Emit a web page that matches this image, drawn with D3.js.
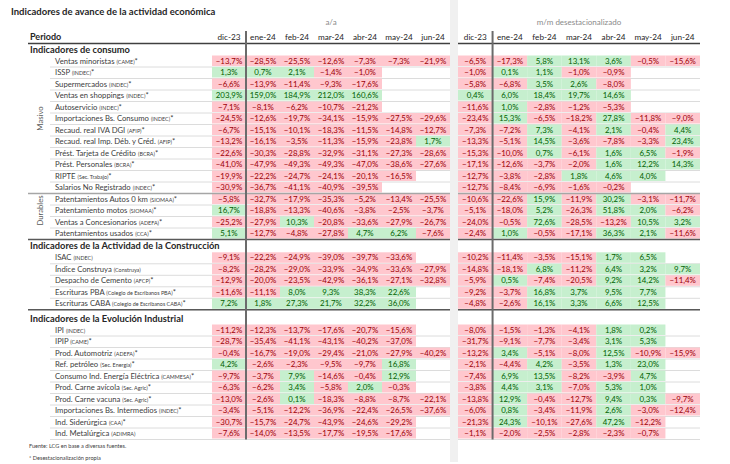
<!DOCTYPE html>
<html><head><meta charset="utf-8">
<script src="https://cdn.jsdelivr.net/npm/d3@7"></script>
<style>body{margin:0;background:#fff}svg{display:block}text{font-family:Lato,"Open Sans",sans-serif}</style>
</head><body><div id="chart"></div>
<script>
// ---------- DATA ----------
const periods = ["dic-23","ene-24","feb-24","mar-24","abr-24","may-24","jun-24"];
const title = "Indicadores de avance de la actividad económica";
const headerAA = "a/a";
const headerMM = "m/m desestacionalizado";

const sectionTitles = ["Indicadores de consumo","Indicadores de la Actividad de la Construcción","Indicadores de la Evolución Industrial"];

const consumoLabels = ["Ventas minoristas","ISSP","Supermercados","Ventas en shoppings","Autoservicio","Importaciones Bs. Consumo","Recaud. real IVA DGI","Recaud. real Imp. Déb. y Créd.","Prést. Tarjeta de Crédito","Prést. Personales","RIPTE","Salarios No Registrado","Patentamientos Autos 0 km","Patentamiento motos","Ventas a Concesionarios","Patentamientos usados"];
const consumoSources = ["(CAME)","(INDEC)","(INDEC)","(INDEC)","(INDEC)","(INDEC)","(AFIP)","(AFIP)","(BCRA)","(BCRA)","(Sec. Trabajo)","(INDEC)","(SIOMAA)","(SIOMAA)","(ADEFA)","(CCA)"];
const consumoStar = [1,1,1,1,1,1,1,1,1,1,1,1,1,1,1,1];
const consumoAA = [
 [-13.7,-28.5,-25.5,-12.6,-7.3,-7.3,-21.9],
 [1.3,0.7,2.1,-1.4,-1.0,null,null],
 [-6.6,-13.9,-11.4,-9.3,-17.6,null,null],
 [203.9,159.0,184.9,212.0,160.6,null,null],
 [-7.1,-8.1,-6.2,-10.7,-21.2,null,null],
 [-24.5,-12.6,-19.7,-34.1,-15.9,-27.5,-29.6],
 [-6.7,-15.1,-10.1,-18.3,-11.5,-14.8,-12.7],
 [-13.2,-16.1,-3.5,-11.3,-15.9,-23.8,1.7],
 [-22.6,-30.3,-28.8,-32.9,-31.1,-27.3,-28.6],
 [-41.0,-47.9,-49.3,-49.3,-47.0,-38.6,-27.6],
 [-19.9,-22.2,-24.7,-24.1,-20.1,-16.5,null],
 [-30.9,-36.7,-41.1,-40.9,-39.5,null,null],
 [-5.8,-32.7,-17.9,-35.3,-5.2,-13.4,-25.5],
 [16.7,-18.8,-13.3,-40.6,-3.8,-2.5,-3.7],
 [-25.2,-27.9,10.3,-20.8,-33.6,-27.9,-26.7],
 [5.1,-12.7,-4.8,-27.8,4.7,6.2,-7.6]
];
const consumoMM = [
 [-6.5,-17.3,5.8,13.1,3.6,-0.5,-15.6],
 [-1.0,0.1,1.1,-1.0,-0.9,null,null],
 [-5.8,-6.8,3.5,2.6,-8.0,null,null],
 [0.4,6.0,18.4,19.7,14.6,null,null],
 [-11.6,1.0,-2.8,-1.2,-5.3,null,null],
 [-23.4,15.3,-6.5,-18.2,27.8,-11.8,-9.0],
 [-7.3,-7.2,7.3,-4.1,2.1,-0.4,4.4],
 [-13.3,-5.1,14.5,-3.6,-7.8,-3.3,23.4],
 [-15.3,-10.0,0.7,-6.1,1.6,6.5,-1.9],
 [-17.1,-12.6,-3.7,-2.0,1.6,12.2,14.3],
 [-12.7,-3.8,-2.8,1.8,4.6,4.0,null],
 [-12.7,-8.4,-6.9,-1.6,-0.2,null,null],
 [-10.6,-22.6,15.9,-11.9,30.2,-3.1,-11.7],
 [-5.1,-18.0,5.2,-26.3,51.8,2.0,-6.2],
 [-24.0,-0.5,72.6,-28.5,-13.2,10.5,3.2],
 [-2.4,1.0,-0.5,-17.1,36.3,2.1,-11.6]
];
const consumoGroups = [{name:"Masivo",from:0,to:11},{name:"Durables",from:12,to:15}];

const construLabels = ["ISAC","Índice Construya","Despacho de Cemento","Escrituras PBA","Escrituras CABA"];
const construSources = ["(INDEC)","(Construya)","(AFCP)","(Colegio de Escribanos PBA)","(Colegio de Escribanos CABA)"];
const construStar = [0,0,1,1,1];
const construAA = [
 [-9.1,-22.2,-24.9,-39.0,-39.7,-33.6,null],
 [-8.2,-28.2,-29.0,-33.9,-34.9,-33.6,-27.9],
 [-12.9,-20.0,-23.5,-42.9,-36.1,-27.1,-32.8],
 [-11.6,-11.1,8.0,9.3,38.3,22.6,null],
 [7.2,1.8,27.3,21.7,32.2,36.0,null]
];
const construMM = [
 [-10.2,-11.4,-3.5,-15.1,1.7,6.5,null],
 [-14.8,-18.1,6.8,-11.2,6.4,3.2,9.7],
 [-5.9,0.5,-7.4,-20.5,9.2,14.2,-11.4],
 [-9.2,-3.7,16.8,3.7,9.5,7.7,null],
 [-4.8,-2.6,16.1,3.3,6.6,12.5,null]
];

const industLabels = ["IPI","IPIP","Prod. Automotriz","Ref. petróleo","Consumo Ind. Energía Eléctrica","Prod. Carne avícola","Prod. Carne vacuna","Importaciones Bs. Intermedios","Ind. Siderúrgica","Ind. Metalúrgica"];
const industSources = ["(INDEC)","(CAME)","(ADEFA)","(Sec. Energía)","(CAMMESA)","(Sec. Agric)","(Sec. Agric)","(INDEC)","(CAA)","(ADIMRA)"];
const industStar = [0,1,1,1,1,1,1,1,1,0];
const industAA = [
 [-11.2,-12.3,-13.7,-17.6,-20.7,-15.6,null],
 [-28.7,-35.4,-41.1,-43.1,-40.2,-37.0,null],
 [-0.4,-16.7,-19.0,-29.4,-21.0,-27.9,-40.2],
 [4.2,-2.6,-2.3,-9.5,-9.7,16.8,null],
 [-9.7,-3.7,7.9,-14.6,-0.4,12.9,null],
 [-6.3,-6.2,3.4,-5.8,2.0,-0.3,null],
 [-13.0,-2.6,0.1,-18.3,-8.8,-8.7,-22.1],
 [-3.4,-5.1,-12.2,-36.9,-22.4,-26.5,-37.6],
 [-30.7,-15.7,-24.7,-43.9,-24.6,-29.2,null],
 [-7.6,-14.0,-13.5,-17.7,-19.5,-17.6,null]
];
const industMM = [
 [-8.0,-1.5,-1.3,-4.1,1.8,0.2,null],
 [-31.7,-9.1,-7.7,-3.4,3.1,5.3,null],
 [-13.2,3.4,-5.1,-8.0,12.5,-10.9,-15.9],
 [-2.1,-4.4,4.2,-3.5,1.3,23.0,null],
 [-7.4,6.9,13.5,-8.2,-3.9,4.7,null],
 [-3.8,4.4,3.1,-7.0,5.3,1.0,null],
 [-13.8,12.9,-0.4,-12.7,9.4,0.3,-9.7],
 [-6.0,0.8,-3.4,-11.9,2.6,-3.0,-12.4],
 [-21.3,24.3,-10.1,-27.6,47.2,-12.2,null],
 [-1.1,-2.0,-2.5,-2.8,-2.3,-0.7,null]
];
const footnotes = ["Fuente: LCG en base a diversas fuentes.","* Desestacionalización propia"];

// ---------- LAYOUT ----------
const W = 730, H = 464;
const svg = d3.select("#chart").append("svg").attr("width", W).attr("height", H);

const xAA = d3.scaleBand().domain(periods).range([212, 450]);
const xMM = d3.scaleBand().domain(periods).range([458, 700]);
const rowH = 11.5;
const sections = [
  {title: sectionTitles[0], titleY: 50, top: 55.5, labels: consumoLabels, sources: consumoSources, star: consumoStar, aa: consumoAA, mm: consumoMM, groups: consumoGroups},
  {title: sectionTitles[1], titleY: 246, top: 252.3, labels: construLabels, sources: construSources, star: construStar, aa: construAA, mm: construMM, groups: []},
  {title: sectionTitles[2], titleY: 319, top: 324.5, labels: industLabels, sources: industSources, star: industStar, aa: industAA, mm: industMM, groups: []}
];
sections.forEach(s => {
  s.y = d3.scaleBand().domain(d3.range(s.labels.length)).range([s.top, s.top + rowH * s.labels.length]);
});

const fmt = d3.formatLocale({decimal: ",", thousands: ".", grouping: [3], currency: ["$", ""]}).format(".1f");
const POS_BG = "#c6efce", POS_TX = "#006100", NEG_BG = "#ffc7ce", NEG_TX = "#9c0006";
const labelColor = "#404040";

// title and headers
svg.append("text").attr("x", 11).attr("y", 12).attr("dy", "0.35em")
  .attr("font-size", 9.5).attr("font-weight", 700).attr("fill", "#262626").text(title);
svg.append("text").attr("x", (xAA.range()[0] + xAA.range()[1]) / 2).attr("y", 22).attr("dy", "0.35em")
  .attr("text-anchor", "middle").attr("font-size", 8).attr("fill", "#8a8a8a").text(headerAA);
svg.append("text").attr("x", (xMM.range()[0] + xMM.range()[1]) / 2).attr("y", 22).attr("dy", "0.35em")
  .attr("text-anchor", "middle").attr("font-size", 8).attr("fill", "#8a8a8a").text(headerMM);
svg.append("text").attr("x", 30).attr("y", 37).attr("dy", "0.35em")
  .attr("font-size", 9).attr("font-weight", 700).attr("fill", "#262626").text("Periodo");
[xAA, xMM].forEach(x => {
  svg.append("g").selectAll("text").data(periods).join("text")
    .attr("x", d => x(d) + x.bandwidth() / 2).attr("y", 37).attr("dy", "0.35em")
    .attr("text-anchor", "middle").attr("font-size", 8.2).attr("fill", "#262626").text(d => d);
});

// row grid lines
const grid = svg.append("g");
sections.forEach(s => {
  s.labels.forEach((l, i) => {
    const yb = s.y(i) + rowH;
    grid.append("line").attr("x1", 50).attr("x2", 700).attr("y1", yb).attr("y2", yb)
      .attr("stroke", "#dcdcdc").attr("stroke-width", 1);
  });
});

// cells
sections.forEach(s => {
  [[s.aa, xAA], [s.mm, xMM]].forEach(([vals, x]) => {
    const cells = [];
    vals.forEach((row, i) => row.forEach((v, j) => { if (v !== null) cells.push({i, p: periods[j], v}); }));
    const g = svg.append("g");
    g.selectAll("rect").data(cells).join("rect")
      .attr("x", d => x(d.p)).attr("y", d => s.y(d.i)).attr("width", x.bandwidth()).attr("height", rowH - 1)
      .attr("fill", d => d.v >= 0 ? POS_BG : NEG_BG);
    g.selectAll("text").data(cells).join("text")
      .attr("x", d => x(d.p) + x.bandwidth() / 2).attr("y", d => s.y(d.i) + (rowH - 1) / 2).attr("dy", "0.36em")
      .attr("text-anchor", "middle").attr("font-size", 7.9)
      .attr("fill", d => d.v >= 0 ? POS_TX : NEG_TX).text(d => fmt(d.v) + "%");
  });
});

// labels
sections.forEach(s => {
  svg.append("text").attr("x", 30).attr("y", s.titleY).attr("dy", "0.35em")
    .attr("font-size", 9.3).attr("font-weight", 700).attr("fill", "#262626").text(s.title);
  s.labels.forEach((l, i) => {
    const t = svg.append("text").attr("x", 55).attr("y", s.y(i) + (rowH - 1) / 2).attr("dy", "0.36em")
      .attr("font-size", 7.7).attr("fill", labelColor);
    t.append("tspan").text(l + " ");
    t.append("tspan").attr("font-size", 5.4).text(s.sources[i]);
    if (s.star[i]) t.append("tspan").text("*");
  });
  s.groups.forEach(gr => {
    const yc = (s.y(gr.from) + s.y(gr.to) + rowH) / 2 - 6;
    svg.append("text").attr("transform", `translate(40,${yc}) rotate(-90)`).attr("dy", "0.35em")
      .attr("text-anchor", "middle").attr("font-size", 7.7).attr("fill", "#595959").text(gr.name);
  });
});

// separator lines
const s0 = sections[0], s1 = sections[1];
const yDur = s0.y(12);
svg.append("line").attr("x1", 28).attr("x2", 700).attr("y1", yDur).attr("y2", yDur).attr("stroke", "#a6a6a6").attr("stroke-width", 1.5);
[s0.top + rowH * s0.labels.length, s1.top + rowH * s1.labels.length].forEach(yy => {
  svg.append("line").attr("x1", 28).attr("x2", 700).attr("y1", yy).attr("y2", yy).attr("stroke", "#595959").attr("stroke-width", 1.5);
});
svg.append("line").attr("x1", 28).attr("x2", 700).attr("y1", 43.5).attr("y2", 43.5).attr("stroke", "#404040").attr("stroke-width", 1.5);
const s2 = sections[2];
const yEnd = s2.top + rowH * s2.labels.length;
[xAA, xMM].forEach(x => {
  const xv = x(periods[1]);
  svg.append("line").attr("x1", xv).attr("x2", xv).attr("y1", 31).attr("y2", yEnd).attr("stroke", "#6b6b6b").attr("stroke-width", 2);
});

// gray separator band
svg.append("rect").attr("x", 450).attr("y", 0).attr("width", 8).attr("height", 462).attr("fill", "#f0f0f0");

// footnotes
footnotes.forEach((f, i) => {
  svg.append("text").attr("x", 29).attr("y", 446 + i * 12).attr("dy", "0.35em")
    .attr("font-size", 5.6).attr("fill", "#404040").text(f);
});
</script></body></html>
